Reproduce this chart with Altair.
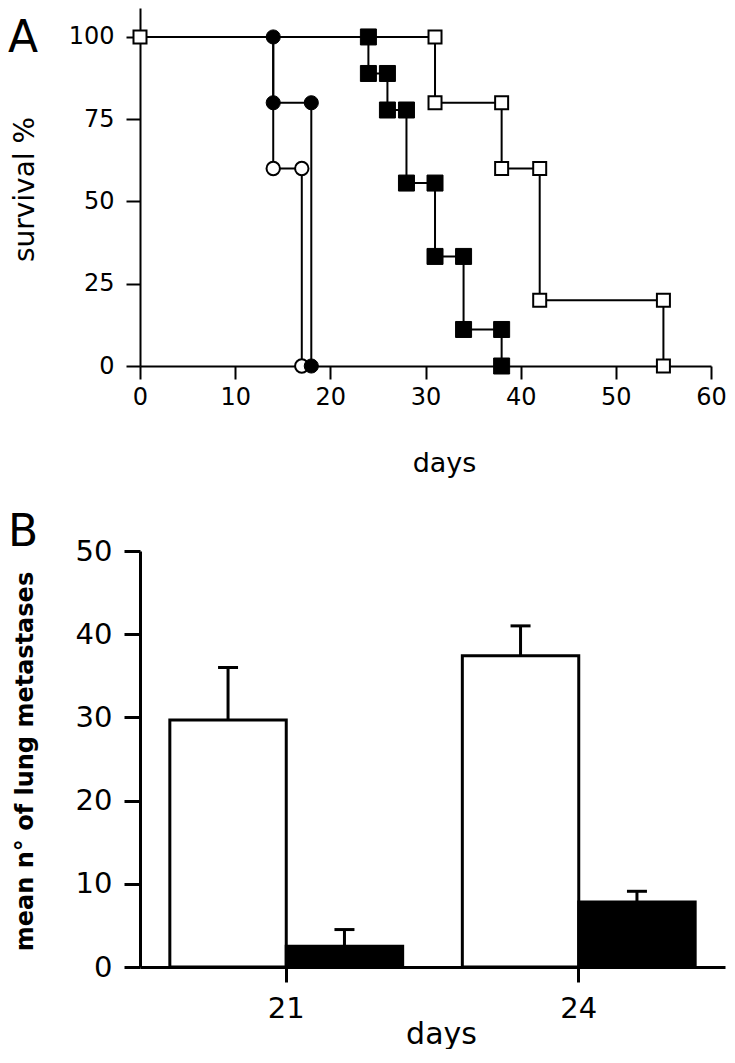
import altair as alt
import pandas as pd

FONT = "DejaVu Sans"

# ---------------- Panel A : survival curves ----------------
# open squares
open_sq_days = [0, 31, 31, 38, 38, 42, 42, 55, 55]
open_sq_surv = [100, 100, 80, 80, 60, 60, 20, 20, 0]
# filled squares
filled_sq_days = [24, 24, 26, 26, 28, 28, 31, 31, 34, 34, 38, 38]
filled_sq_surv = [100, 88.9, 88.9, 77.8, 77.8, 55.6, 55.6, 33.3, 33.3, 11.1, 11.1, 0]
# filled circles
filled_ci_days = [14, 14, 18, 18]
filled_ci_surv = [100, 80, 80, 0]
# open circles
open_ci_days = [14, 17, 17]
open_ci_surv = [60, 60, 0]

# step-curve paths (each curve starts at day 0, 100 %)
open_sq_line_days = [0, 31, 31, 38, 38, 42, 42, 55, 55]
open_sq_line_surv = [100, 100, 80, 80, 60, 60, 20, 20, 0]
filled_sq_line_days = [0, 24, 24, 26, 26, 28, 28, 31, 31, 34, 34, 38, 38]
filled_sq_line_surv = [100, 100, 88.9, 88.9, 77.8, 77.8, 55.6, 55.6, 33.3, 33.3, 11.1, 11.1, 0]
filled_ci_line_days = [0, 14, 14, 18, 18]
filled_ci_line_surv = [100, 100, 80, 80, 0]
open_ci_line_days = [0, 14, 14, 17, 17]
open_ci_line_surv = [100, 100, 60, 60, 0]

x_ticks_a = [0, 10, 20, 30, 40, 50, 60]
y_ticks_a = [0, 25, 50, 75, 100]
panel_labels = ["A", "B"]

# ---------------- Panel B : lung metastases ----------------
days_b = ["21", "24"]
groups_b = ["control", "treated"]
control_mean = [29.7, 37.4]
control_err = [6.3, 3.6]
treated_mean = [2.5, 7.8]
treated_err = [2.0, 1.3]
y_ticks_b = [0, 10, 20, 30, 40, 50]


def line_df(name, days, surv):
    return pd.DataFrame({"series": name, "day": days, "surv": surv,
                         "order": list(range(len(days)))})


lines = pd.concat([
    line_df("open_sq", open_sq_line_days, open_sq_line_surv),
    line_df("filled_sq", filled_sq_line_days, filled_sq_line_surv),
    line_df("filled_ci", filled_ci_line_days, filled_ci_line_surv),
    line_df("open_ci", open_ci_line_days, open_ci_line_surv),
])

xa = alt.X("day:Q", scale=alt.Scale(domain=[0, 60], nice=False, zero=False),
           axis=alt.Axis(values=x_ticks_a, grid=False, tickSize=13, tickWidth=2,
                         domainWidth=2, domainColor="black", tickColor="black",
                         labelFont=FONT, labelFontSize=24, labelColor="black",
                         labelPadding=6, labelFlush=False, labelOverlap=False,
                         title="days", titleFont=FONT, titleFontSize=27,
                         titleFontWeight="normal", titleColor="black",
                         titleX=304, titleY=105, titleAlign="center",
                         titleBaseline="alphabetic"))
ya = alt.Y("surv:Q", scale=alt.Scale(domain=[0, 108.8], nice=False),
           axis=alt.Axis(values=y_ticks_a, grid=False, tickSize=14, tickWidth=2,
                         domainWidth=2, domainColor="black", tickColor="black",
                         labelFont=FONT, labelFontSize=24, labelColor="black",
                         labelPadding=12, labelFlush=False,
                         title="survival %", titleFont=FONT, titleFontSize=28,
                         titleFontWeight="normal", titleColor="black",
                         titleX=-107, titleY=181, titleAngle=270,
                         titleAlign="center", titleBaseline="alphabetic"))

line_layer = alt.Chart(lines).mark_line(color="black", strokeWidth=2).encode(
    x=xa, y=ya, detail="series:N", order="order:Q")


def pts(days, surv, shape, filled, size):
    df = pd.DataFrame({"day": days, "surv": surv})
    if filled:
        m = alt.Chart(df).mark_point(shape=shape, filled=True, fill="black",
                                     stroke="black", strokeWidth=1, size=size, opacity=1)
    else:
        m = alt.Chart(df).mark_point(shape=shape, filled=True, fill="white",
                                     stroke="black", strokeWidth=2, size=size, opacity=1)
    return m.encode(x=xa, y=ya)


label_a = alt.Chart(pd.DataFrame({"t": [panel_labels[0]]})).mark_text(
    font=FONT, fontSize=44, align="left", baseline="alphabetic", color="black"
).encode(text="t:N", x=alt.value(-132), y=alt.value(44))

chart_a = alt.layer(
    line_layer,
    pts(open_ci_days, open_ci_surv, "circle", False, 180),
    pts(filled_ci_days, filled_ci_surv, "circle", True, 200),
    pts(filled_sq_days, filled_sq_surv, "square", True, 256),
    pts(open_sq_days, open_sq_surv, "square", False, 169),
    label_a,
).properties(width=571, height=358)

# ---------------- Panel B chart ----------------
rows = []
for i, d in enumerate(days_b):
    rows.append({"day": d, "group": groups_b[0], "mean": control_mean[i],
                 "upper": control_mean[i] + control_err[i]})
    rows.append({"day": d, "group": groups_b[1], "mean": treated_mean[i],
                 "upper": treated_mean[i] + treated_err[i]})
dfb = pd.DataFrame(rows)

xb = alt.X("day:N", sort=days_b,
           scale=alt.Scale(paddingInner=0.204, paddingOuter=0.102),
           axis=alt.Axis(labelAngle=0, tickSize=15, tickWidth=3, domainWidth=3,
                         domainColor="black", tickColor="black",
                         labelFont=FONT, labelFontSize=29, labelColor="black",
                         labelPadding=12,
                         title="days", titleFont=FONT, titleFontSize=30,
                         titleFontWeight="normal", titleColor="black",
                         titleX=301, titleY=76, titleAlign="center",
                         titleBaseline="alphabetic"))
xob = alt.XOffset("group:N", sort=groups_b,
                  scale=alt.Scale(domain=groups_b, paddingInner=0, paddingOuter=0))
yaxis_b = alt.Axis(values=y_ticks_b, grid=False, tickSize=16, tickWidth=3,
                   domainWidth=3, domainColor="black", tickColor="black",
                   labelFont=FONT, labelFontSize=29, labelColor="black",
                   labelPadding=12,
                   title="mean n° of lung metastases", titleFont=FONT,
                   titleFontSize=24, titleFontWeight="bold", titleColor="black",
                   titleX=-108, titleY=210, titleAngle=270,
                   titleAlign="center", titleBaseline="alphabetic")
yscale_b = alt.Scale(domain=[0, 50], nice=False)
ytitle_b = "mean n° of lung metastases"

bars = alt.Chart(dfb).mark_bar(stroke="black", strokeWidth=3).encode(
    x=xb, xOffset=xob,
    y=alt.Y("mean:Q", scale=yscale_b, axis=yaxis_b, title=ytitle_b),
    fill=alt.Fill("group:N", scale=alt.Scale(domain=groups_b, range=["white", "black"]),
                  legend=None),
)
err_rule = alt.Chart(dfb).mark_rule(color="black", strokeWidth=3).encode(
    x=xb, xOffset=xob,
    y=alt.Y("mean:Q", scale=yscale_b, axis=yaxis_b, title=ytitle_b),
    y2="upper:Q",
)
err_cap = alt.Chart(dfb).mark_tick(color="black", thickness=3, size=20,
                                   orient="horizontal", opacity=1).encode(
    x=xb, xOffset=xob,
    y=alt.Y("upper:Q", scale=yscale_b, axis=yaxis_b, title=ytitle_b),
)
label_b = alt.Chart(pd.DataFrame({"t": [panel_labels[1]]})).mark_text(
    font=FONT, fontSize=44, align="left", baseline="alphabetic", color="black"
).encode(text="t:N", x=alt.value(-132), y=alt.value(-5))

chart_b = alt.layer(bars, err_rule, err_cap, label_b).properties(width=585, height=416)

chart = alt.vconcat(chart_a, chart_b, spacing=35).properties(
    padding={"left": 0, "top": 0, "right": 0, "bottom": 0},
    background="white",
).configure_view(stroke=None)

chart.save("out.html", embed_options={"renderer": "svg", "actions": False})
